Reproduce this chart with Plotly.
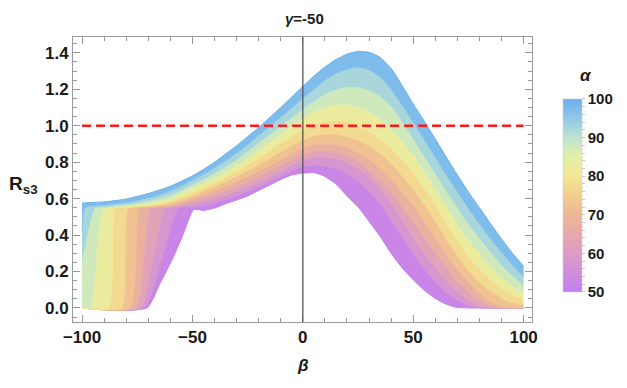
import plotly.graph_objects as go
from plotly.colors import sample_colorscale

# gamma = -50, one curve per alpha value
alphas = [50, 55, 60, 65, 70, 75, 80, 85, 90, 95, 100]

# common beta grid for the right-hand part of every curve
beta_tail = [-45, -40, -35, -30, -25, -20, -15, -10, -5, 0, 5, 10, 15, 20, 25,
             30, 35, 40, 45, 50, 55, 60, 65, 70, 75, 80, 85, 90, 95, 100]

# left-hand part (jump / rising branch) of each curve
beta_head_50 = [-100, -70.6, -64.6, -58.5, -54, -49.5]
rs3_head_50 = [0, 0, 0.137, 0.283, 0.41, 0.54]
beta_head_55 = [-100, -71.8, -64, -56.5, -50]
rs3_head_55 = [0, 0, 0.26, 0.55, 0.555]
beta_head_60 = [-100, -73.5, -68, -62.5, -60, -50]
rs3_head_60 = [0, 0, 0.26, 0.55, 0.551, 0.57]
beta_head_65 = [-100, -75.5, -69, -60, -50]
rs3_head_65 = [0, 0, 0.55, 0.556, 0.585]
beta_head_70 = [-100, -78, -74, -70, -60, -50]
rs3_head_70 = [0, 0, 0.55, 0.551, 0.563, 0.60]
beta_head_75 = [-100, -82, -79, -70, -60, -50]
rs3_head_75 = [0, 0, 0.55, 0.556, 0.573, 0.615]
beta_head_80 = [-100, -88, -85, -80, -70, -60, -50]
rs3_head_80 = [0, 0, 0.55, 0.552, 0.563, 0.585, 0.635]
beta_head_85 = [-100, -96, -90, -80, -70, -60, -50]
rs3_head_85 = [0, 0, 0.55, 0.557, 0.572, 0.598, 0.655]
beta_head_90 = [-100, -94, -90, -80, -70, -60, -50]
rs3_head_90 = [0.25, 0.55, 0.553, 0.565, 0.585, 0.617, 0.675]
beta_head_95 = [-100, -98.5, -90, -80, -70, -60, -50]
rs3_head_95 = [0.42, 0.55, 0.563, 0.577, 0.602, 0.64, 0.70]
beta_head_100 = [-100, -90, -80, -70, -60, -50]
rs3_head_100 = [0.576, 0.582, 0.598, 0.628, 0.668, 0.725]

# values on beta_tail
rs3_tail_50 = [0.535, 0.548, 0.572, 0.592, 0.615, 0.645, 0.675, 0.705, 0.73, 0.74,
               0.743, 0.722, 0.68, 0.615, 0.555, 0.475, 0.393, 0.30, 0.22, 0.155,
               0.097, 0.052, 0.02, 0.002, 0, 0, 0, 0, 0, 0]
rs3_tail_55 = [0.562, 0.575, 0.595, 0.615, 0.64, 0.665, 0.695, 0.725, 0.755, 0.775,
               0.785, 0.78, 0.765, 0.735, 0.695, 0.64, 0.57, 0.48, 0.39, 0.30,
               0.215, 0.14, 0.085, 0.045, 0.012, 0, 0, 0, 0, 0]
rs3_tail_60 = [0.585, 0.60, 0.62, 0.64, 0.665, 0.69, 0.72, 0.75, 0.78, 0.81,
               0.825, 0.828, 0.818, 0.795, 0.763, 0.718, 0.655, 0.575, 0.482, 0.385,
               0.298, 0.22, 0.15, 0.09, 0.042, 0.008, 0, 0, 0, 0]
rs3_tail_65 = [0.602, 0.622, 0.643, 0.665, 0.69, 0.72, 0.75, 0.78, 0.81, 0.84,
               0.857, 0.862, 0.855, 0.833, 0.80, 0.755, 0.70, 0.635, 0.555, 0.47,
               0.385, 0.30, 0.22, 0.145, 0.085, 0.037, 0.007, 0, 0, 0]
rs3_tail_70 = [0.62, 0.643, 0.668, 0.693, 0.72, 0.75, 0.78, 0.812, 0.845, 0.875,
               0.893, 0.90, 0.897, 0.88, 0.85, 0.812, 0.765, 0.705, 0.635, 0.56,
               0.475, 0.385, 0.295, 0.21, 0.14, 0.078, 0.03, 0.003, 0, 0]
rs3_tail_75 = [0.64, 0.665, 0.693, 0.722, 0.752, 0.785, 0.82, 0.855, 0.89, 0.92,
               0.942, 0.952, 0.952, 0.94, 0.92, 0.888, 0.845, 0.792, 0.725, 0.65,
               0.565, 0.475, 0.38, 0.285, 0.205, 0.14, 0.09, 0.052, 0.027, 0.015]
rs3_tail_80 = [0.66, 0.688, 0.718, 0.75, 0.787, 0.825, 0.865, 0.905, 0.943, 0.98,
               1.008, 1.025, 1.03, 1.022, 1.0, 0.97, 0.928, 0.875, 0.812, 0.745,
               0.66, 0.57, 0.47, 0.37, 0.285, 0.215, 0.155, 0.105, 0.07, 0.045]
rs3_tail_85 = [0.683, 0.712, 0.745, 0.78, 0.82, 0.865, 0.907, 0.95, 0.995, 1.04,
               1.075, 1.10, 1.112, 1.112, 1.10, 1.075, 1.035, 0.98, 0.91, 0.835,
               0.745, 0.65, 0.553, 0.455, 0.37, 0.295, 0.225, 0.165, 0.117, 0.08]
rs3_tail_90 = [0.705, 0.737, 0.773, 0.812, 0.857, 0.905, 0.95, 0.997, 1.043, 1.09,
               1.135, 1.17, 1.197, 1.212, 1.21, 1.195, 1.16, 1.105, 1.02, 0.925,
               0.83, 0.735, 0.64, 0.545, 0.46, 0.38, 0.305, 0.235, 0.175, 0.12]
rs3_tail_95 = [0.732, 0.767, 0.807, 0.85, 0.895, 0.945, 0.995, 1.045, 1.097, 1.15,
               1.20, 1.248, 1.285, 1.31, 1.32, 1.305, 1.268, 1.20, 1.11, 1.02,
               0.922, 0.825, 0.728, 0.635, 0.545, 0.46, 0.38, 0.303, 0.233, 0.17]
rs3_tail_100 = [0.76, 0.80, 0.845, 0.89, 0.94, 0.99, 1.045, 1.10, 1.158, 1.216,
                1.272, 1.322, 1.363, 1.393, 1.408, 1.403, 1.375, 1.315, 1.22, 1.12,
                1.025, 0.927, 0.828, 0.73, 0.637, 0.55, 0.463, 0.378, 0.30, 0.228]

threshold = 1.0
beta_span = [-100, 100]
cbar_ticks = list(range(50, 101, 2))
cbar_labels = [str(v) if v % 10 == 0 else '' for v in cbar_ticks]

# pastel-like gradient (purple -> pink -> yellow -> blue)
pastel = [[0.0, '#C27EF2'], [0.1, '#D08FDB'], [0.2, '#DD9CC4'], [0.3, '#E6A8AB'],
          [0.4, '#EDB796'], [0.5, '#F2CE8E'], [0.6, '#F3E794'], [0.7, '#E3EFA8'],
          [0.8, '#BEE3CF'], [0.9, '#92C8E8'], [1.0, '#6AB0EE']]

heads = [(beta_head_50, rs3_head_50), (beta_head_55, rs3_head_55),
         (beta_head_60, rs3_head_60), (beta_head_65, rs3_head_65),
         (beta_head_70, rs3_head_70), (beta_head_75, rs3_head_75),
         (beta_head_80, rs3_head_80), (beta_head_85, rs3_head_85),
         (beta_head_90, rs3_head_90), (beta_head_95, rs3_head_95),
         (beta_head_100, rs3_head_100)]
tails = [rs3_tail_50, rs3_tail_55, rs3_tail_60, rs3_tail_65, rs3_tail_70,
         rs3_tail_75, rs3_tail_80, rs3_tail_85, rs3_tail_90, rs3_tail_95,
         rs3_tail_100]


def col(a):
    return sample_colorscale(pastel, (a - 50) / 50)[0]


fig = go.Figure()

for i, a in enumerate(alphas):
    bx, ry = heads[i]
    x = bx + beta_tail
    y = ry + tails[i]
    fill = None
    fillcolor = None
    if i > 0:
        fill = 'tonexty'
        fillcolor = col((a + alphas[i - 1]) / 2)
    fig.add_trace(go.Scatter(x=x, y=y, mode='lines',
                             line=dict(color=col(a), width=1, shape='spline', smoothing=0.5),
                             fill=fill, fillcolor=fillcolor,
                             showlegend=False, hoverinfo='skip'))

# seuil R = 1
fig.add_trace(go.Scatter(x=beta_span, y=[threshold, threshold], mode='lines',
                         line=dict(color='#FF1A1A', width=2.6, dash='9px,5px'),
                         showlegend=False, hoverinfo='skip'))

# colour bar only
fig.add_trace(go.Scatter(x=[None], y=[None], mode='markers',
                         marker=dict(colorscale=pastel, cmin=50, cmax=100, color=[50],
                                     showscale=True,
                                     colorbar=dict(x=1.0675, xanchor='left', xpad=0,
                                                   y=0.444, yanchor='middle', ypad=0,
                                                   len=193, lenmode='pixels',
                                                   thickness=19,
                                                   tickvals=cbar_ticks, ticktext=cbar_labels,
                                                   ticks='outside', ticklen=3,
                                                   tickcolor='#c8c8c8',
                                                   tickfont=dict(family='Liberation Sans', size=15,
                                                                 color='#1a1a1a', weight='bold'),
                                                   outlinewidth=0.5, outlinecolor='#cccccc')),
                         showlegend=False, hoverinfo='skip'))

tickfont = dict(family='Liberation Sans', size=17, color='#1a1a1a', weight='bold')

fig.update_xaxes(range=[-104.1, 103.8], tickvals=[-100, -50, 0, 50, 100],
                 ticks='inside', ticklen=7, tickcolor='#999999',
                 minor=dict(ticks='inside', ticklen=4, dtick=10, tick0=0, tickcolor='#999999'),
                 showline=True, linecolor='#999999', linewidth=1, mirror='allticks',
                 showgrid=False, zeroline=False, tickfont=tickfont)
fig.update_yaxes(range=[-0.077, 1.487], tick0=0, dtick=0.2, tickformat='.1f',
                 ticks='inside', ticklen=7, tickcolor='#999999',
                 minor=dict(ticks='inside', ticklen=4, dtick=0.05, tick0=0, tickcolor='#999999'),
                 showline=True, linecolor='#999999', linewidth=1, mirror='allticks',
                 showgrid=False, zeroline=False, tickfont=tickfont)

# beta = 0 axis line
fig.add_shape(type='line', x0=0, x1=0, y0=0, y1=1, xref='x', yref='paper',
              line=dict(color='#555555', width=1.3), layer='above')

labels = [('<i>γ</i>=-50', 0.505, 1.064, 15),
          ('<i>β</i>', 0.501, -0.154, 17),
          ('R<sub>s3</sub>', -0.108, 0.48, 19),
          ('<i>α</i>', 1.118, 0.865, 17)]
for text, lx, ly, size in labels:
    fig.add_annotation(text=text, x=lx, y=ly, xref='paper', yref='paper',
                       xanchor='center', yanchor='middle', showarrow=False,
                       font=dict(family='Liberation Sans', size=size, color='#1a1a1a',
                                 weight='bold'))

# the page body adds an 8 px offset, so the figure is 8 px smaller and margins shifted
fig.update_layout(width=619, height=380,
                  margin=dict(l=65, r=95, t=29, b=66, autoexpand=False),
                  plot_bgcolor='white', paper_bgcolor='white')

fig.write_html("out.html")
